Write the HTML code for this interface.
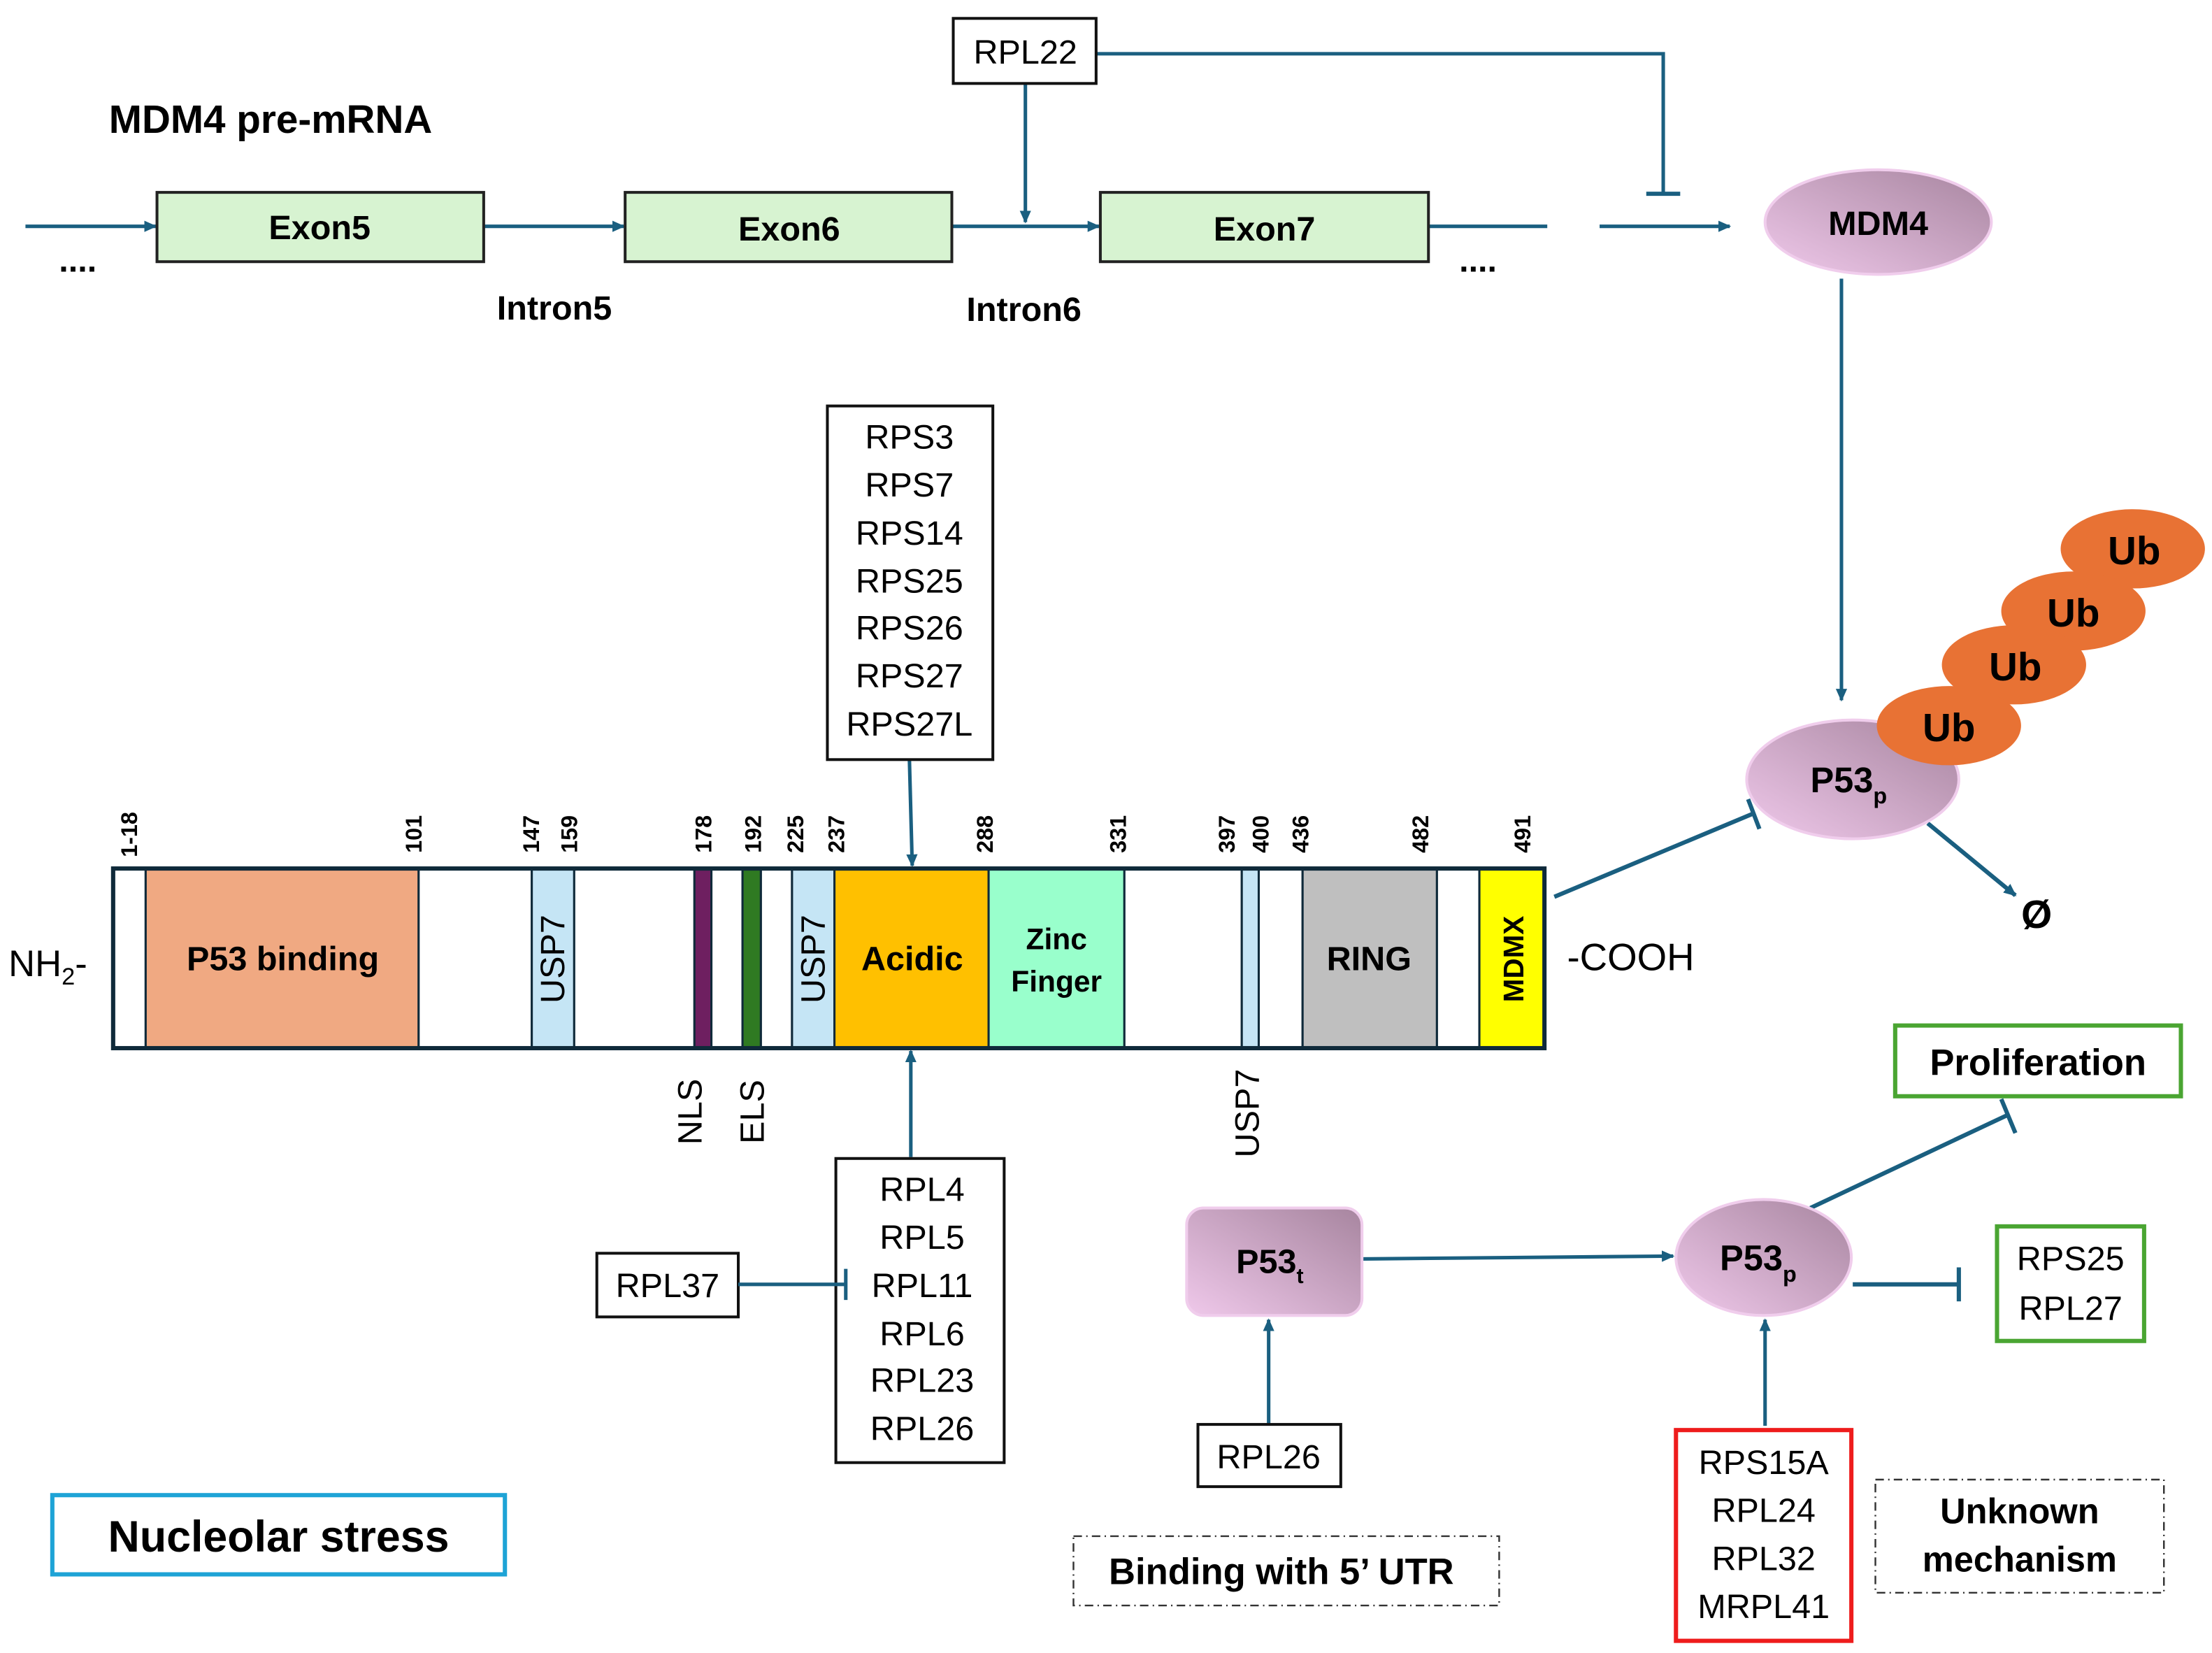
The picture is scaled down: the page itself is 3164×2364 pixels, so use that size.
<!DOCTYPE html>
<html><head><meta charset="utf-8"><style>
html,body{margin:0;padding:0;background:#fff}
svg{display:block}
text{font-family:"Liberation Sans",sans-serif}
.b{font-weight:bold}
</style></head><body>
<svg width="3164" height="2364" viewBox="0 0 1564 1168.6" preserveAspectRatio="none" xmlns="http://www.w3.org/2000/svg">
<defs>
<marker id="ar" markerWidth="10" markerHeight="10" refX="8" refY="5" orient="auto" markerUnits="userSpaceOnUse"><path d="M0,1 L9,5 L0,9 Z" fill="#1a5f80"/></marker>
<linearGradient id="pg" x1="0" y1="1" x2="1" y2="0"><stop offset="0" stop-color="#efc8ea"/><stop offset="1" stop-color="#a7859f"/></linearGradient>
</defs>
<g stroke="#1a5f80" stroke-width="2.5" fill="none">
<line x1="18" y1="160" x2="110" y2="160" marker-end="url(#ar)"/>
<line x1="342" y1="160" x2="441" y2="160" marker-end="url(#ar)"/>
<line x1="673" y1="160" x2="777" y2="160" marker-end="url(#ar)"/>
<line x1="1010" y1="160" x2="1094" y2="160"/>
<line x1="1131" y1="160" x2="1223" y2="160" marker-end="url(#ar)"/>
<line x1="725" y1="59" x2="725" y2="157" marker-end="url(#ar)"/>
<polyline points="775,38 1176,38 1176,137"/>
<line x1="1164" y1="137" x2="1188" y2="137" stroke-width="3"/>
<line x1="1302" y1="197" x2="1302" y2="495" marker-end="url(#ar)"/>
<line x1="1099" y1="634" x2="1240" y2="575" stroke-width="3"/>
<line x1="1236" y1="565" x2="1244" y2="586" stroke-width="3"/>
<line x1="1363" y1="582" x2="1425" y2="633" stroke-width="3" marker-end="url(#ar)"/>
<line x1="643" y1="537" x2="645" y2="612" marker-end="url(#ar)"/>
<line x1="644" y1="818" x2="644" y2="743" marker-end="url(#ar)"/>
<line x1="963" y1="890" x2="1183" y2="888" marker-end="url(#ar)"/>
<line x1="897" y1="1007" x2="897" y2="933" marker-end="url(#ar)"/>
<line x1="1248" y1="1008" x2="1248" y2="933" marker-end="url(#ar)"/>
<line x1="1280" y1="854" x2="1420" y2="788" stroke-width="3"/>
<line x1="1415" y1="777" x2="1425" y2="801" stroke-width="3"/>
<line x1="1310" y1="908" x2="1385" y2="908" stroke-width="3"/>
<line x1="1385" y1="896" x2="1385" y2="920" stroke-width="3"/>
</g>
<text x="77" y="94" font-size="28" class="b">MDM4 pre-mRNA</text>
<g fill="#d7f3d1" stroke="#222" stroke-width="2">
<rect x="111" y="136" width="231" height="49"/>
<rect x="442" y="136" width="231" height="49"/>
<rect x="778" y="136" width="232" height="49"/>
</g>
<g font-size="24" class="b" text-anchor="middle">
<text x="226" y="169">Exon5</text><text x="558" y="170">Exon6</text><text x="894" y="170">Exon7</text>
<text x="392" y="226">Intron5</text><text x="724" y="227">Intron6</text>
<text x="55" y="192">....</text><text x="1045" y="192">....</text>
</g>
<rect x="674" y="13" width="101" height="46" fill="#fff" stroke="#111" stroke-width="2"/>
<text x="725" y="45" font-size="24" text-anchor="middle">RPL22</text>
<ellipse cx="1328" cy="157" rx="80" ry="37" fill="url(#pg)" stroke="#f0cdec" stroke-width="2"/>
<text x="1328" y="166" font-size="24" class="b" text-anchor="middle">MDM4</text>
<ellipse cx="1310" cy="551" rx="75" ry="42" fill="url(#pg)" stroke="#f0cdec" stroke-width="2"/>
<text x="1280" y="560" font-size="25" class="b">P53<tspan font-size="16" dy="8">p</tspan></text>
<g fill="#e87234">
<ellipse cx="1508" cy="388" rx="51" ry="28"/>
<ellipse cx="1466" cy="432" rx="51" ry="28"/>
<ellipse cx="1424" cy="470" rx="51" ry="28"/>
<ellipse cx="1378" cy="513" rx="51" ry="28"/>
</g>
<g font-size="28" class="b" text-anchor="middle">
<text x="1509" y="399">Ub</text><text x="1466" y="443">Ub</text><text x="1425" y="481">Ub</text><text x="1378" y="524">Ub</text>
</g>
<text x="1440" y="656" font-size="28" class="b" text-anchor="middle">Ø</text>
<g stroke="#0f2a3a" stroke-width="1.5">
<rect x="80" y="614" width="23" height="127" fill="#fff"/>
<rect x="103" y="614" width="193" height="127" fill="#f0a982"/>
<rect x="296" y="614" width="80" height="127" fill="#fff"/>
<rect x="376" y="614" width="30" height="127" fill="#c5e5f5"/>
<rect x="406" y="614" width="85" height="127" fill="#fff"/>
<rect x="491" y="614" width="12" height="127" fill="#6e1f60"/>
<rect x="503" y="614" width="22" height="127" fill="#fff"/>
<rect x="525" y="614" width="13" height="127" fill="#2f7a22"/>
<rect x="538" y="614" width="22" height="127" fill="#fff"/>
<rect x="560" y="614" width="30" height="127" fill="#c5e5f5"/>
<rect x="590" y="614" width="109" height="127" fill="#ffc000"/>
<rect x="699" y="614" width="96" height="127" fill="#99ffcc"/>
<rect x="795" y="614" width="83" height="127" fill="#fff"/>
<rect x="878" y="614" width="12" height="127" fill="#c5e5f5"/>
<rect x="890" y="614" width="31" height="127" fill="#fff"/>
<rect x="921" y="614" width="95" height="127" fill="#bfbfbf"/>
<rect x="1016" y="614" width="30" height="127" fill="#fff"/>
<rect x="1046" y="614" width="46" height="127" fill="#ffff00"/>
</g>
<rect x="80" y="614" width="1012" height="127" fill="none" stroke="#0f2a3a" stroke-width="3"/>
<g font-size="16" class="b">
<text transform="translate(97,606) rotate(-90)">1-18</text>
<text transform="translate(298,603) rotate(-90)">101</text>
<text transform="translate(381,603) rotate(-90)">147</text>
<text transform="translate(408,603) rotate(-90)">159</text>
<text transform="translate(503,603) rotate(-90)">178</text>
<text transform="translate(538,603) rotate(-90)">192</text>
<text transform="translate(568,603) rotate(-90)">225</text>
<text transform="translate(597,603) rotate(-90)">237</text>
<text transform="translate(702,603) rotate(-90)">288</text>
<text transform="translate(796,603) rotate(-90)">331</text>
<text transform="translate(873,603) rotate(-90)">397</text>
<text transform="translate(897,603) rotate(-90)">400</text>
<text transform="translate(925,603) rotate(-90)">436</text>
<text transform="translate(1010,603) rotate(-90)">482</text>
<text transform="translate(1082,603) rotate(-90)">491</text>
</g>
<text x="6" y="690" font-size="26">NH<tspan font-size="17" dy="6">2</tspan><tspan dy="-6">-</tspan></text>
<text x="1108" y="686" font-size="27">-COOH</text>
<text x="200" y="686" font-size="24" class="b" text-anchor="middle">P53 binding</text>
<text x="645" y="686" font-size="24" class="b" text-anchor="middle">Acidic</text>
<text x="747" y="671" font-size="21" class="b" text-anchor="middle">Zinc</text>
<text x="747" y="701" font-size="21" class="b" text-anchor="middle">Finger</text>
<text x="968" y="686" font-size="24" class="b" text-anchor="middle">RING</text>
<text transform="translate(1077,678) rotate(-90)" font-size="20" class="b" text-anchor="middle">MDMX</text>
<text transform="translate(399,678) rotate(-90)" font-size="24" text-anchor="middle">USP7</text>
<text transform="translate(583,678) rotate(-90)" font-size="24" text-anchor="middle">USP7</text>
<text transform="translate(496,786) rotate(-90)" font-size="24" text-anchor="middle">NLS</text>
<text transform="translate(540,786) rotate(-90)" font-size="24" text-anchor="middle">ELS</text>
<text transform="translate(890,787) rotate(-90)" font-size="24" text-anchor="middle">USP7</text>
<g fill="#fff" stroke="#111" stroke-width="2">
<rect x="585" y="287" width="117" height="250"/>
<rect x="591" y="819" width="119" height="215"/>
<rect x="422" y="886" width="100" height="45"/>
<rect x="847" y="1007" width="101" height="44"/>
</g>
<g stroke="#1a5f80" stroke-width="2.5">
<line x1="522" y1="908" x2="598" y2="908"/>
<line x1="598" y1="897" x2="598" y2="919"/>
</g>
<g font-size="24" text-anchor="middle">
<text x="643" y="317">RPS3</text><text x="643" y="351">RPS7</text><text x="643" y="385">RPS14</text><text x="643" y="419">RPS25</text><text x="643" y="452">RPS26</text><text x="643" y="486">RPS27</text><text x="643" y="520">RPS27L</text>
<text x="652" y="849">RPL4</text><text x="652" y="883">RPL5</text><text x="652" y="917">RPL11</text><text x="652" y="951">RPL6</text><text x="652" y="984">RPL23</text><text x="652" y="1018">RPL26</text>
<text x="472" y="917">RPL37</text><text x="897" y="1038">RPL26</text>
</g>
<rect x="37" y="1057" width="320" height="56" fill="#fff" stroke="#1ea3d6" stroke-width="3"/>
<text x="197" y="1097" font-size="31" class="b" text-anchor="middle">Nucleolar stress</text>
<rect x="839" y="854" width="124" height="76" rx="12" fill="url(#pg)" stroke="#f0cdec" stroke-width="2"/>
<text x="874" y="900" font-size="24" class="b">P53<tspan font-size="15" dy="7">t</tspan></text>
<rect x="759" y="1086" width="301" height="49" fill="none" stroke="#333" stroke-width="1.2" stroke-dasharray="6,3,1,3"/>
<text x="906" y="1120" font-size="26" class="b" text-anchor="middle">Binding with 5’ UTR</text>
<ellipse cx="1247" cy="889" rx="62" ry="41" fill="url(#pg)" stroke="#f0cdec" stroke-width="2"/>
<text x="1216" y="898" font-size="25" class="b">P53<tspan font-size="16" dy="8">p</tspan></text>
<rect x="1340" y="725" width="202" height="50" fill="#fff" stroke="#4aa532" stroke-width="3"/>
<text x="1441" y="760" font-size="26" class="b" text-anchor="middle">Proliferation</text>
<rect x="1412" y="867" width="104" height="81" fill="#fff" stroke="#4aa532" stroke-width="3"/>
<text x="1464" y="898" font-size="24" text-anchor="middle">RPS25</text>
<text x="1464" y="933" font-size="24" text-anchor="middle">RPL27</text>
<rect x="1185" y="1011" width="124" height="149" fill="#fff" stroke="#ee1c1c" stroke-width="3"/>
<g font-size="24" text-anchor="middle">
<text x="1247" y="1042">RPS15A</text><text x="1247" y="1076">RPL24</text><text x="1247" y="1110">RPL32</text><text x="1247" y="1144">MRPL41</text>
</g>
<rect x="1326" y="1046" width="204" height="80" fill="none" stroke="#333" stroke-width="1.2" stroke-dasharray="6,3,1,3"/>
<text x="1428" y="1077" font-size="25" class="b" text-anchor="middle">Unknown</text>
<text x="1428" y="1111" font-size="25" class="b" text-anchor="middle">mechanism</text>
</svg>
</body></html>
